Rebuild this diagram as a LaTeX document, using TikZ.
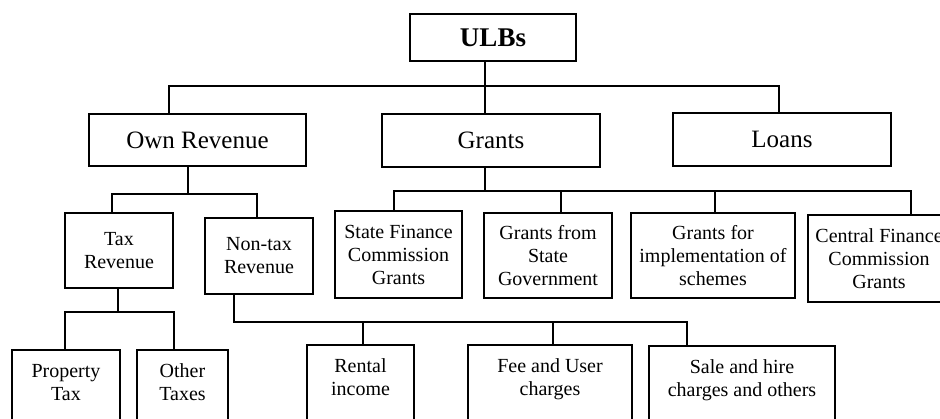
\documentclass[tikz,border=0pt]{standalone}
\usepackage{fontspec}
\setmainfont{Liberation Serif}
\usetikzlibrary{calc}
\begin{document}
\begin{tikzpicture}[x=0.5pt, y=-0.5pt,
  box/.style={draw, line width=1pt, align=center, inner sep=0pt},
  head/.style={box, font=\fontsize{12.5}{15}\selectfont},
  leaf/.style={box, font=\fontsize{10}{11.5}\selectfont},
  cut/.style={leaf, anchor=north, inner ysep=7pt, text depth=30pt},
  link/.style={line width=0.8pt}]
\useasboundingbox (0,0) rectangle (940,418);
% top levels
\node[box, font=\fontsize{13.5}{16}\selectfont\bfseries, minimum width=83pt, minimum height=23.5pt] (ulbs) at (493,37.5) {ULBs};
\node[head, minimum width=108.5pt, minimum height=26pt] (own) at (197.5,140) {Own Revenue};
\node[head, minimum width=109pt, minimum height=26.5pt] (grants) at (491,140.5) {Grants};
\node[head, minimum width=109pt, minimum height=26.5pt] (loans) at (782,139.5) {Loans};
% second level
\node[leaf, minimum width=54pt, minimum height=37.5pt] (tax) at (119,250.5) {Tax\\Revenue};
\node[leaf, minimum width=54pt, minimum height=38pt] (nontax) at (259,256) {Non-tax\\Revenue};
\node[leaf, minimum width=63.5pt, minimum height=43.5pt] (sfc) at (398.5,254.5) {State Finance\\Commission\\Grants};
\node[leaf, minimum width=64pt, minimum height=42.5pt] (gsg) at (548,255.5) {Grants from\\State\\Government};
\node[leaf, minimum width=82pt, minimum height=42.5pt] (gis) at (713,255.5) {Grants for\\implementation of\\schemes};
\node[leaf, minimum width=71pt, minimum height=43.5pt] (cfc) at (879,258.5) {Central Finance\\Commission\\Grants};
% bottom level
\node[cut, minimum width=54pt] (ptax) at (66,349) {Property\\Tax};
\node[cut, minimum width=45.5pt] (otax) at (182.5,349) {Other\\Taxes};
\node[cut, minimum width=53.5pt] (rental) at (360.5,344) {Rental\\income};
\node[cut, minimum width=82pt] (fee) at (550,344) {Fee and User\\charges};
\node[cut, minimum width=93pt] (sale) at (742,345) {Sale and hire\\charges and others};
% bus lines
\coordinate (top) at (485,86);
\coordinate (ownbus) at (188,194);
\coordinate (taxbus) at (118,312);
\coordinate (ntbus) at (687,322);
\coordinate (gbus) at (485,191);
\draw[link] ($(own.north)+(-28.5,0)$) |- (top) -| ($(loans.north)+(-3,0)$);
\draw[link] ($(ulbs.south)+(-8,0)$) -- ($(grants.north)+(-6,0)$);
\draw[link] ($(own.south)+(-9.5,0)$) -- (ownbus);
\draw[link] ($(tax.north)+(-7,0)$) |- (ownbus) -| ($(nontax.north)+(-2,0)$);
\draw[link] ($(tax.south)+(-1,0)$) -- (taxbus);
\draw[link] ($(ptax.north)+(-1,0)$) |- (taxbus) -| ($(otax.north)+(-8.5,0)$);
\draw[link] ($(nontax.south)+(-25,0)$) |- (ntbus) -- ($(sale.north)+(-55,0)$);
\draw[link] (rental.north) ++(2.5,0) coordinate (r) -- (r |- ntbus);
\draw[link] (fee.north) ++(3,0) coordinate (f) -- (f |- ntbus);
\draw[link] ($(grants.south)+(-6,0)$) -- (gbus);
\draw[link] ($(sfc.north)+(-4.5,0)$) |- (gbus) -| ($(cfc.north)+(32,0)$);
\draw[link] (gsg.north) ++(13,0) coordinate (g1) -- (g1 |- gbus);
\draw[link] (gis.north) ++(2,0) coordinate (g2) -- (g2 |- gbus);
\end{tikzpicture}
\end{document}
